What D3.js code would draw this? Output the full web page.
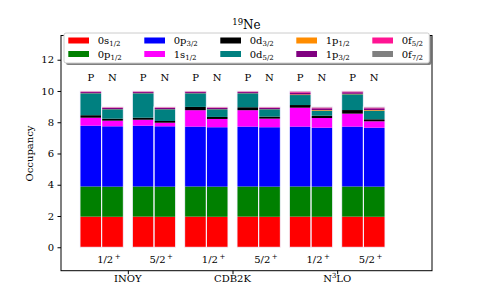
<!DOCTYPE html>
<html>
<head>
<meta charset="utf-8">
<script src="https://cdn.jsdelivr.net/npm/d3@7"></script>
<style>
  body { margin: 0; background: #fff; }
  svg { display: block; font-family: "DejaVu Serif", serif; }
</style>
</head>
<body>
<div id="chart"></div>
<script>
// bars, left to right: INOY 1/2 P, N, 5/2 P, N, then CDB2K, then N3LO
const groups = ["INOY", "CDB2K", "N3LO"];
const states = ["1/2", "5/2"];
const nucleons = ["P", "N"];
const yTicks = [0, 2, 4, 6, 8, 10, 12];

const orbitals = ["0s1/2", "0p1/2", "0p3/2", "1s1/2", "0d3/2", "0d5/2", "1p1/2", "1p3/2", "0f5/2", "0f7/2"];
const s0_12 = [1.96, 1.95, 1.96, 1.95, 1.96, 1.95, 1.96, 1.95, 1.96, 1.95, 1.96, 1.95];
const p0_12 = [1.93, 1.93, 1.93, 1.93, 1.93, 1.93, 1.93, 1.93, 1.93, 1.93, 1.93, 1.93];
const p0_32 = [3.89, 3.86, 3.89, 3.86, 3.83, 3.80, 3.83, 3.80, 3.83, 3.77, 3.83, 3.77];
const s1_12 = [0.51, 0.36, 0.38, 0.23, 1.05, 0.53, 1.05, 0.55, 1.21, 0.62, 0.83, 0.41];
const d0_32 = [0.16, 0.13, 0.13, 0.11, 0.21, 0.13, 0.19, 0.13, 0.17, 0.15, 0.23, 0.13];
const d0_52 = [1.40, 0.60, 1.56, 0.75, 0.87, 0.49, 0.89, 0.47, 0.64, 0.32, 1.01, 0.55];
const p1_12 = [0.01, 0.01, 0.01, 0.01, 0.01, 0.01, 0.01, 0.01, 0.04, 0.04, 0.03, 0.04];
const p1_32 = [0.07, 0.07, 0.07, 0.07, 0.07, 0.07, 0.07, 0.07, 0.12, 0.11, 0.10, 0.11];
const f0_52 = [0.05, 0.05, 0.05, 0.05, 0.05, 0.05, 0.05, 0.05, 0.07, 0.06, 0.06, 0.06];
const f0_72 = [0.02, 0.02, 0.02, 0.02, 0.02, 0.02, 0.02, 0.02, 0.03, 0.03, 0.02, 0.03];
const series = [s0_12, p0_12, p0_32, s1_12, d0_32, d0_52, p1_12, p1_32, f0_52, f0_72];

const colors = ["#ff0000", "#008000", "#0000ff", "#ff00ff", "#000000",
                "#008080", "#ff8c00", "#800080", "#ff1493", "#808080"];

const width = 480, height = 305;
const plotLeft = 61, plotRight = 432, plotTop = 35.5, plotBottom = 270.7;

const rows = [];
groups.forEach(g => states.forEach(s => nucleons.forEach(n => {
  const i = rows.length;
  const r = { group: g, state: s, nucleon: n };
  orbitals.forEach((o, k) => r[o] = series[k][i]);
  rows.push(r);
})));

const stacked = d3.stack().keys(orbitals)(rows);

const slots = d3.scaleBand()
  .domain(groups.flatMap(g => states.map(s => g + "|" + s)))
  .range([80, 385])
  .paddingInner(0.1726)
  .paddingOuter(0);
const inner = d3.scaleBand().domain(nucleons).range([0, slots.bandwidth()]);
const y = d3.scaleLinear().domain([-1.5, 13.55]).range([plotBottom, plotTop]);

const xBar = d => slots(d.group + "|" + d.state) + inner(d.nucleon);
const total = d => d3.sum(orbitals, o => d[o]);

const svg = d3.select("#chart").append("svg")
  .attr("width", width).attr("height", height);

// bars
svg.append("g").selectAll("g")
  .data(stacked)
  .join("g")
  .attr("fill", (d, i) => colors[i])
  .selectAll("rect")
  .data(d => d)
  .join("rect")
  .attr("x", d => xBar(d.data))
  .attr("width", inner.bandwidth())
  .attr("y", d => y(d[1]))
  .attr("height", d => y(d[0]) - y(d[1]));

// thin white bar edges
svg.append("g").selectAll("rect")
  .data(rows)
  .join("rect")
  .attr("x", d => xBar(d))
  .attr("width", inner.bandwidth())
  .attr("y", d => y(total(d)))
  .attr("height", d => y(0) - y(total(d)))
  .attr("fill", "none")
  .attr("stroke", "#f4f4ff")
  .attr("stroke-width", 0.9);

// P / N labels above bars
svg.append("g").selectAll("text")
  .data(rows)
  .join("text")
  .attr("x", d => xBar(d) + inner.bandwidth() / 2)
  .attr("y", 81)
  .attr("text-anchor", "middle")
  .attr("font-size", 10)
  .text(d => d.nucleon);

// state labels below bars
const stateLabels = svg.append("g").selectAll("text")
  .data(groups.flatMap(g => states.map(s => ({ group: g, state: s }))))
  .join("text")
  .attr("x", d => slots(d.group + "|" + d.state) + slots.bandwidth() / 2 - 4.5)
  .attr("y", 263)
  .attr("font-size", 10);
stateLabels.append("tspan").text(d => d.state);
stateLabels.append("tspan").attr("dx", 1.5).attr("dy", -4).attr("font-size", 7).text("+");

// frame
svg.append("rect")
  .attr("x", plotLeft).attr("y", plotTop)
  .attr("width", plotRight - plotLeft).attr("height", plotBottom - plotTop)
  .attr("fill", "none").attr("stroke", "#000").attr("stroke-width", 1);

// y axis
const yAxis = svg.append("g")
  .attr("transform", `translate(${plotLeft},0)`)
  .call(d3.axisLeft(y).tickValues(yTicks).tickSize(3.5).tickPadding(3.5));
yAxis.select(".domain").remove();
yAxis.selectAll("text").attr("font-family", "DejaVu Serif").attr("font-size", 10).attr("fill", "#000");
yAxis.selectAll("line").attr("stroke", "#000");

svg.append("text")
  .attr("transform", `translate(33,${(y(0) + y(12)) / 2}) rotate(-90)`)
  .attr("text-anchor", "middle")
  .attr("font-size", 10)
  .text("Occupancy");

// x axis (group ticks)
const groupX = g => (slots(g + "|" + states[0]) + slots(g + "|" + states[1]) + slots.bandwidth()) / 2;
const xAxis = svg.append("g")
  .attr("transform", `translate(0,${plotBottom})`)
  .call(d3.axisBottom(d3.scaleOrdinal().domain(groups).range(groups.map(groupX)))
    .tickSize(3.5).tickPadding(3.5).tickFormat(""));
xAxis.select(".domain").remove();
xAxis.selectAll("line").attr("stroke", "#000");

const groupText = svg.append("g").selectAll("text")
  .data(groups)
  .join("text")
  .attr("x", groupX)
  .attr("y", 282)
  .attr("text-anchor", "middle")
  .attr("font-size", 10);
groupText.each(function (g) {
  const t = d3.select(this);
  if (g === "N3LO") {
    t.append("tspan").text("N");
    t.append("tspan").attr("dy", -4).attr("font-size", 7).text("3");
    t.append("tspan").attr("dy", 4).text("LO");
  } else {
    t.text(g);
  }
});

// title
const title = svg.append("text")
  .attr("x", (plotLeft + plotRight) / 2)
  .attr("y", 29)
  .attr("text-anchor", "middle")
  .attr("font-size", 12);
title.append("tspan").attr("dy", -4).attr("font-size", 8.5).text("19");
title.append("tspan").attr("dy", 4).text("Ne");

// legend
const legend = svg.append("g");
legend.append("rect")
  .attr("x", 66).attr("y", 35)
  .attr("width", 365.3).attr("height", 30)
  .attr("rx", 2)
  .attr("fill", "#000").attr("opacity", 0.5);
legend.append("rect")
  .attr("x", 64).attr("y", 33)
  .attr("width", 365.3).attr("height", 30)
  .attr("rx", 2)
  .attr("fill", "#fff").attr("stroke", "#cccccc").attr("stroke-width", 1);

const entry = legend.selectAll("g.entry")
  .data(orbitals)
  .join("g")
  .attr("class", "entry")
  .attr("transform", (d, i) => `translate(${68.3 + Math.floor(i / 2) * 76},${i % 2 ? 54 : 40.5})`);
entry.append("rect")
  .attr("x", 0).attr("y", -3)
  .attr("width", 20.7).attr("height", 6)
  .attr("fill", (d, i) => colors[i]);
const entryText = entry.append("text")
  .attr("x", 29.4).attr("y", 3.6)
  .attr("font-size", 10);
entryText.append("tspan").text(d => d.slice(0, 2));
entryText.append("tspan").attr("dy", 2.2).attr("font-size", 7).text(d => d.slice(2));
</script>
</body>
</html>
